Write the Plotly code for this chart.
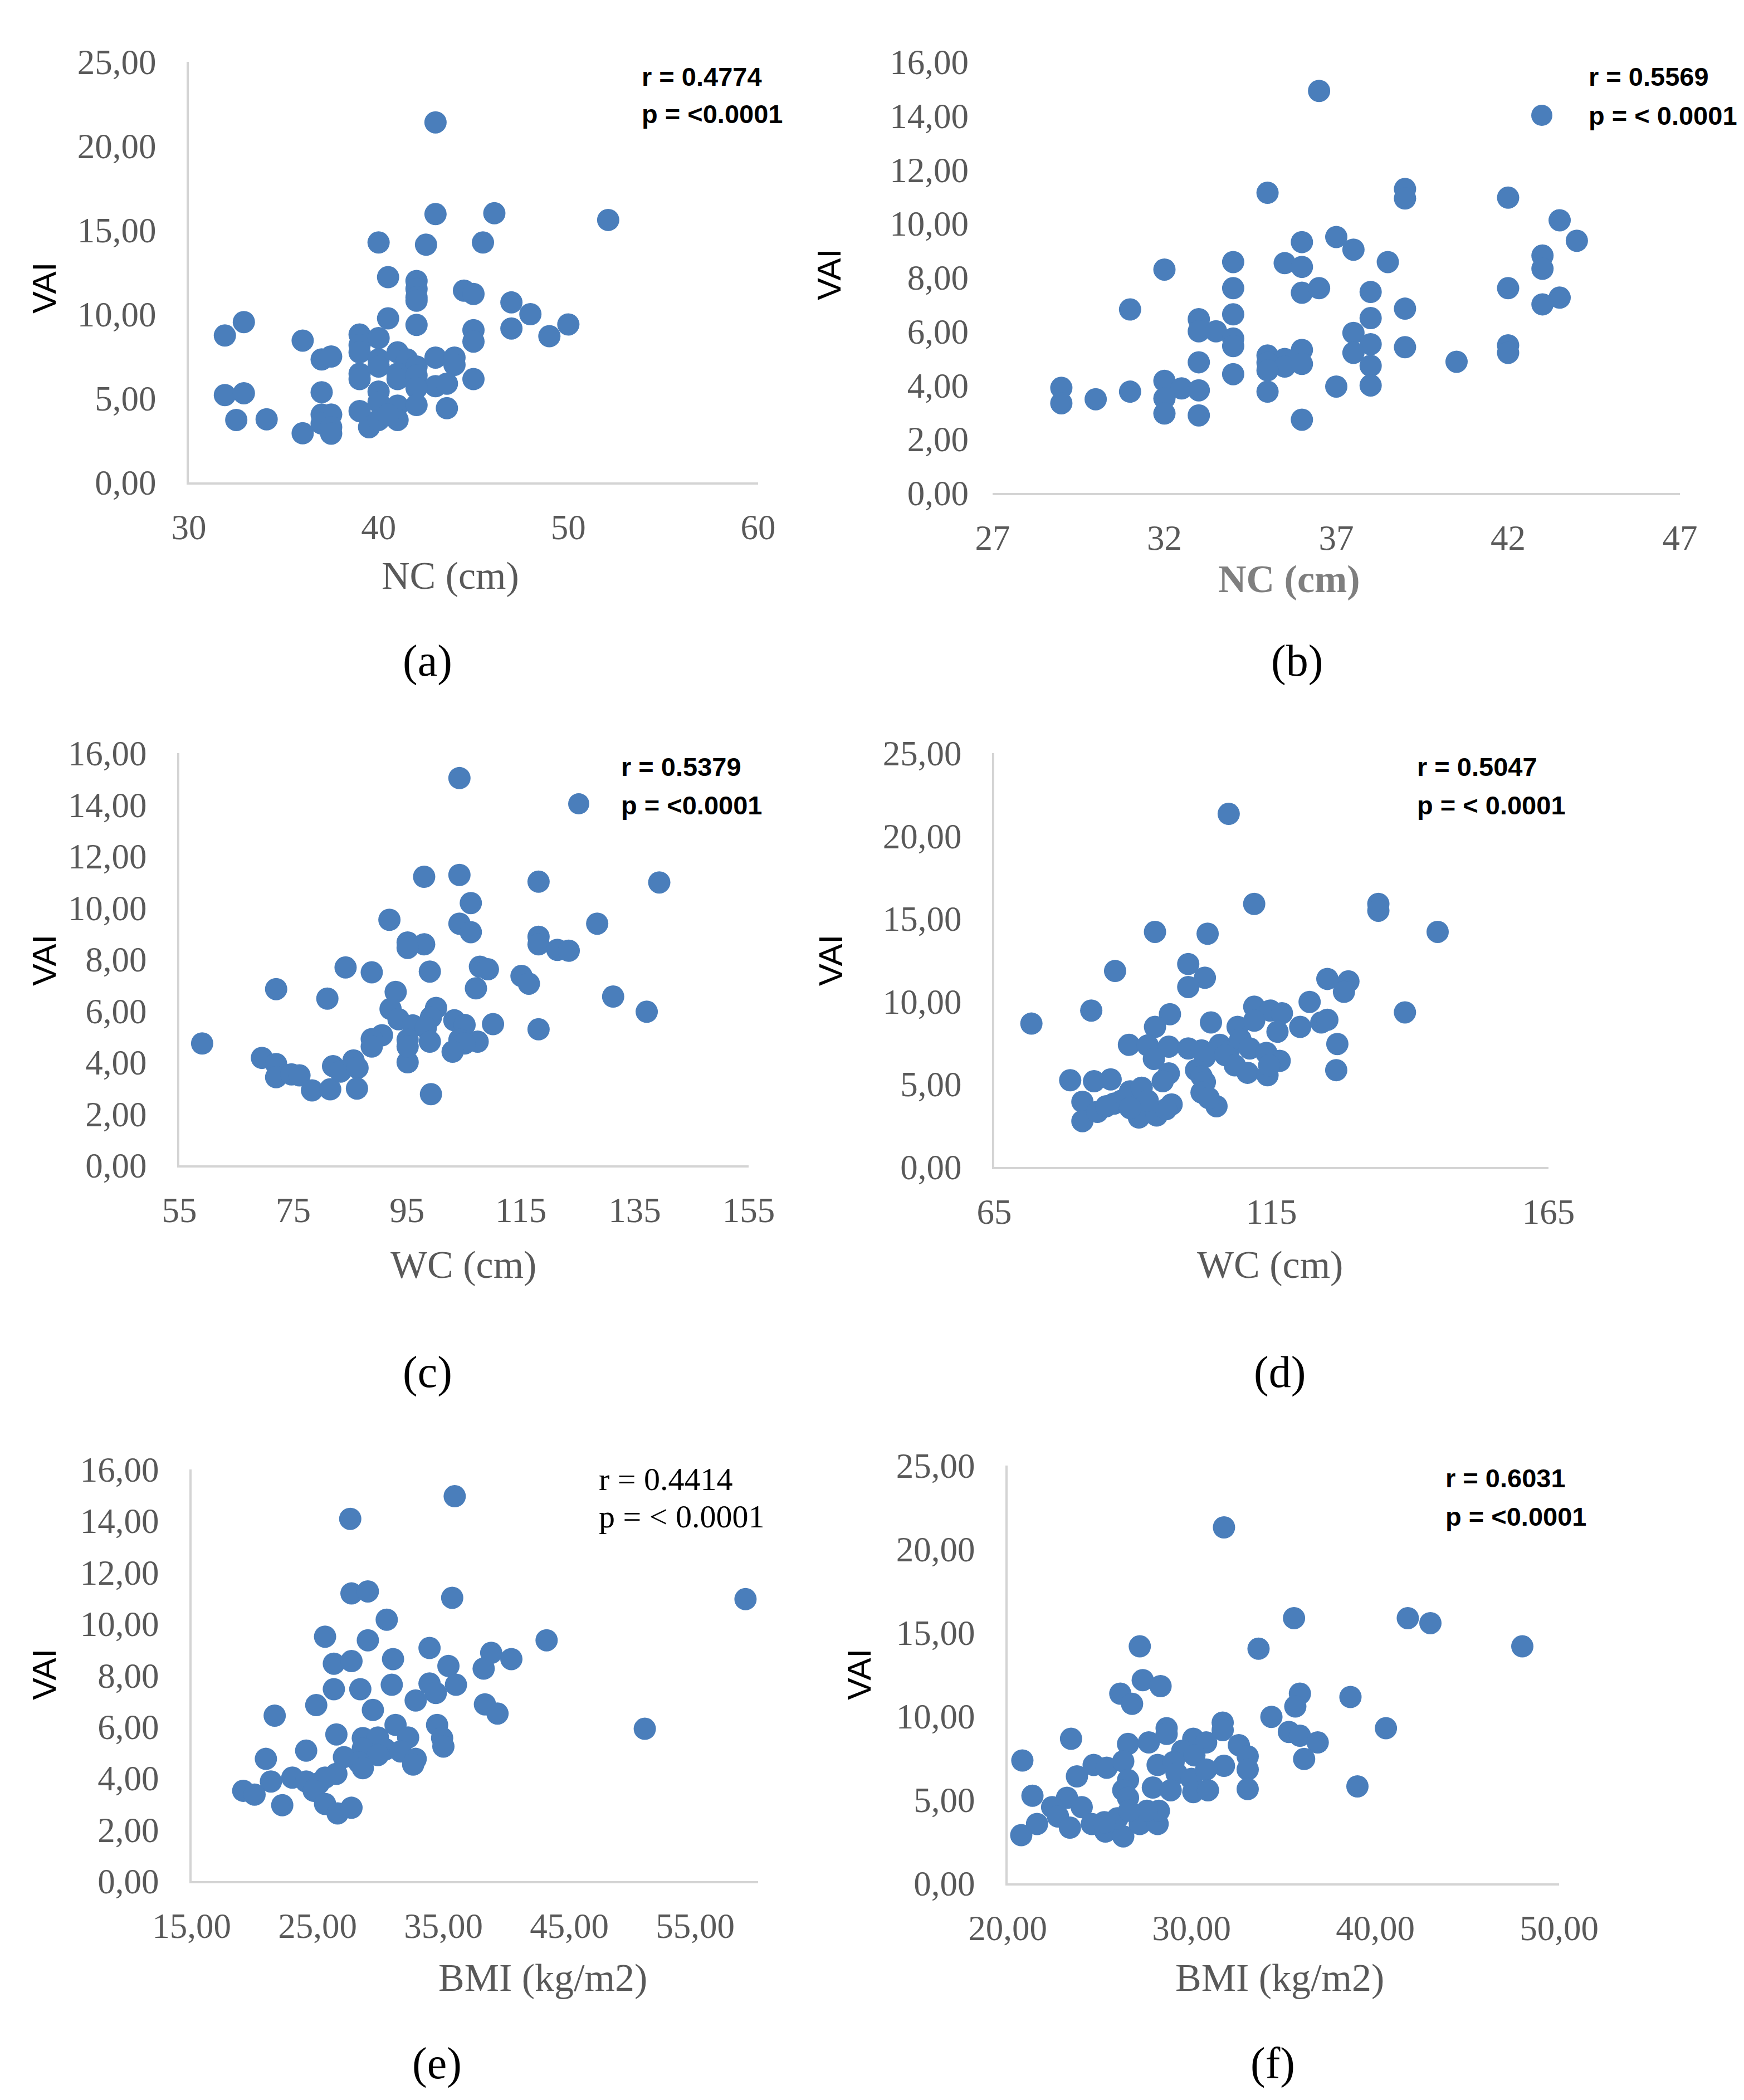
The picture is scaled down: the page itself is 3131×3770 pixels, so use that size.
import plotly.graph_objects as go

# ---------------- data ----------------
NC_A = [
    43.0, 43.0, 46.1, 52.1, 40.0, 42.5, 45.5, 40.5, 42.0, 42.0,
    42.0, 42.0, 44.5, 45.0, 47.0, 48.0, 40.5, 42.0, 47.0, 50.0,
    49.0, 45.0, 45.0, 32.9, 31.9, 36.0, 39.0, 39.0, 40.0, 37.0,
    37.5, 39.0, 40.0, 40.0, 41.0, 41.5, 42.0, 43.0, 44.0, 44.0,
    39.0, 39.0, 41.0, 41.0, 42.0, 45.0, 43.0, 43.6, 42.0, 31.9,
    32.9, 37.0, 40.0, 40.0, 41.0, 42.0, 43.6, 39.0, 32.5, 34.1,
    37.0, 37.5, 37.0, 37.5, 36.0, 37.5, 39.5, 40.0, 41.0, 40.5]
VAI_A = [
    21.40, 15.95, 16.00, 15.60, 14.26, 14.13, 14.26, 12.20, 11.97, 11.50,
    11.00, 10.80, 11.40, 11.20, 10.70, 10.00, 9.75, 9.36, 9.15, 9.39,
    8.69, 9.05, 8.37, 9.53, 8.73, 8.43, 8.79, 8.16, 8.58, 7.31,
    7.48, 7.73, 7.31, 6.89, 7.73, 7.31, 6.89, 7.42, 7.42, 6.99,
    6.46, 6.14, 6.46, 6.14, 6.36, 6.14, 5.72, 5.87, 5.61, 5.19,
    5.30, 5.36, 5.40, 4.77, 4.56, 4.60, 4.41, 4.24, 3.71, 3.75,
    4.03, 4.03, 3.50, 3.28, 2.92, 2.90, 3.28, 3.71, 3.71, 4.03]

NC_B = [
    36.5, 35.0, 39.0, 39.0, 42.0, 43.5, 44.0, 37.0, 36.0, 37.5,
    32.0, 34.0, 35.5, 36.0, 38.5, 43.0, 43.0, 34.0, 36.0, 36.5,
    38.0, 42.0, 43.5, 43.0, 31.0, 39.0, 33.0, 34.0, 38.0, 33.0,
    33.5, 37.5, 34.0, 34.0, 38.0, 39.0, 42.0, 42.0, 36.0, 37.5,
    35.0, 35.5, 35.0, 35.5, 36.0, 35.0, 33.0, 40.5, 38.0, 34.0,
    32.0, 32.5, 33.0, 31.0, 29.0, 29.0, 30.0, 32.0, 32.0, 33.0,
    35.0, 37.0, 38.0, 36.0]
VAI_B = [
    14.92, 11.14, 11.28, 10.93, 10.96, 10.12, 9.36, 9.50, 9.31, 9.03,
    8.29, 8.57, 8.53, 8.39, 8.57, 8.81, 8.32, 7.60, 7.43, 7.60,
    7.46, 7.60, 7.25, 7.00, 6.81, 6.84, 6.45, 6.63, 6.49, 6.00,
    6.00, 5.94, 5.73, 5.45, 5.52, 5.41, 5.48, 5.20, 5.31, 5.20,
    5.10, 4.97, 4.83, 4.69, 4.79, 4.55, 4.85, 4.87, 4.72, 4.41,
    4.16, 3.88, 3.81, 3.76, 3.90, 3.33, 3.48, 3.51, 2.95, 2.88,
    3.76, 3.95, 3.99, 2.72]

WC_C = [
    104.2, 98.0, 104.2, 118.1, 139.3, 106.2, 91.9, 104.2, 106.2, 128.4,
    95.1, 98.0, 95.1, 118.1, 118.1, 121.4, 123.4, 84.2, 88.8, 99.0,
    107.8, 109.2, 115.1, 116.4, 72.0, 107.1, 81.0, 93.0, 131.2, 137.1,
    92.1, 100.1, 93.5, 99.2, 103.3, 105.1, 110.1, 96.0, 98.3, 118.1,
    90.6, 88.8, 88.8, 95.1, 99.0, 104.2, 107.4, 105.1, 103.0, 59.0,
    69.5, 72.0, 72.0, 74.7, 76.1, 78.3, 81.5, 82.0, 83.3, 85.6,
    86.3, 86.2, 95.1, 99.2, 95.1]
VAI_C = [
    15.03, 11.20, 11.27, 11.01, 10.98, 10.18, 9.53, 9.38, 9.05, 9.38,
    8.65, 8.58, 8.44, 8.87, 8.58, 8.36, 8.33, 7.68, 7.49, 7.52,
    7.71, 7.61, 7.35, 7.05, 6.84, 6.87, 6.47, 6.73, 6.55, 5.96,
    6.07, 6.11, 5.67, 5.75, 5.63, 5.45, 5.48, 5.43, 5.34, 5.28,
    5.05, 4.90, 4.61, 4.87, 4.80, 4.87, 4.80, 4.73, 4.41, 4.73,
    4.17, 3.93, 3.42, 3.53, 3.49, 2.91, 2.95, 3.85, 3.64, 4.07,
    3.78, 2.98, 4.00, 2.76, 4.61]

WC_D = [
    107.3, 111.9, 134.3, 134.3, 94.0, 103.5, 145.0, 86.8, 100.0, 103.0,
    100.0, 125.1, 128.9, 128.1, 121.9, 139.1, 71.7, 82.5, 96.7, 111.9,
    114.8, 116.9, 94.0, 104.1, 108.9, 111.9, 120.2, 124.0, 125.1, 116.1,
    89.3, 92.7, 96.5, 100.0, 102.4, 105.7, 107.3, 109.4, 111.1, 126.9,
    93.8, 103.0, 106.7, 108.4, 114.1, 116.5, 110.7, 114.3, 114.6, 126.7,
    101.4, 96.5, 95.4, 102.4, 103.0, 78.7, 83.0, 86.0, 80.9, 80.9,
    83.6, 86.6, 89.5, 91.6, 91.1, 94.3, 97.0, 96.0, 102.4, 105.1,
    103.7, 87.9, 92.7, 89.5, 85.2]
VAI_D = [
    21.33, 15.89, 15.89, 15.48, 14.20, 14.09, 14.20, 11.84, 12.26, 11.43,
    10.87, 11.36, 11.21, 10.58, 9.97, 9.34, 8.66, 9.45, 9.23, 9.68,
    9.45, 9.29, 8.46, 8.73, 8.46, 8.84, 8.46, 8.73, 8.89, 8.17,
    7.38, 7.34, 7.27, 7.16, 7.04, 7.38, 6.98, 7.72, 7.16, 7.43,
    6.53, 6.64, 6.75, 6.14, 6.89, 6.41, 5.69, 5.54, 6.14, 5.85,
    5.85, 5.65, 5.18, 5.47, 5.13, 5.24, 5.18, 5.29, 3.94, 2.77,
    3.33, 3.83, 4.57, 4.79, 2.99, 3.11, 3.78, 3.49, 4.50, 3.67,
    4.16, 4.00, 4.00, 3.56, 3.67]

BMI_E = [
    35.9, 27.6, 27.7, 29.0, 35.7, 59.0, 30.5, 25.6, 29.0, 43.2,
    33.9, 26.3, 27.7, 31.0, 35.4, 38.8, 38.2, 40.4, 26.3, 28.4,
    30.9, 33.9, 36.0, 34.4, 32.8, 24.9, 29.4, 38.3, 39.3, 21.6,
    31.2, 34.5, 26.5, 28.6, 29.8, 32.2, 34.9, 35.0, 24.1, 28.6,
    30.4, 31.6, 29.8, 27.1, 28.3, 32.8, 32.6, 28.6, 20.9, 26.5,
    21.3, 23.0, 24.1, 25.1, 25.6, 19.1, 20.0, 24.7, 22.2, 25.6,
    26.6, 27.7, 51.0]
VAI_E = [
    14.96, 14.08, 11.18, 11.26, 11.01, 10.96, 10.16, 9.50, 9.36, 9.36,
    9.06, 8.45, 8.55, 8.63, 8.36, 8.87, 8.26, 8.63, 7.46, 7.46,
    7.63, 7.68, 7.63, 7.31, 7.02, 6.84, 6.65, 6.87, 6.51, 6.43,
    6.07, 6.07, 5.70, 5.56, 5.58, 5.58, 5.56, 5.23, 5.07, 5.15,
    5.12, 5.04, 4.90, 4.82, 4.61, 4.75, 4.53, 4.39, 4.75, 4.17,
    3.87, 4.02, 3.87, 3.80, 4.02, 3.51, 3.36, 3.51, 2.95, 3.00,
    2.63, 2.85, 5.92]

BMI_F = [
    31.77, 35.58, 41.77, 43.00, 27.19, 33.65, 48.00, 27.35, 28.32, 26.13,
    26.77, 35.90, 35.65, 38.65, 34.35, 31.70, 31.70, 28.65, 28.65, 40.58,
    35.30, 35.90, 36.87, 30.10, 30.80, 32.58, 26.55, 27.68, 23.45, 29.50,
    33.06, 30.16, 36.13, 20.80, 24.68, 25.39, 26.29, 28.16, 29.03, 31.77,
    33.06, 29.19, 30.00, 30.80, 23.77, 26.55, 27.90, 28.87, 30.10, 30.90,
    33.06, 39.03, 26.29, 26.55, 21.35, 23.23, 22.42, 24.03, 21.60, 22.74,
    23.39, 24.58, 25.32, 26.29, 20.74, 25.97, 27.19, 28.16, 28.23, 27.58,
    26.61, 25.26]
VAI_F = [
    21.30, 15.87, 15.87, 15.57, 14.18, 14.04, 14.18, 12.16, 11.80, 11.35,
    10.74, 11.35, 10.58, 11.15, 9.96, 9.62, 9.17, 9.28, 8.94, 9.28,
    9.06, 8.83, 8.43, 8.65, 8.43, 8.27, 8.34, 8.43, 8.65, 7.93,
    7.60, 7.66, 7.44, 7.35, 7.08, 6.92, 7.30, 7.08, 7.26, 7.03,
    6.81, 6.58, 6.25, 6.81, 6.40, 6.18, 5.73, 5.57, 5.46, 5.57,
    5.64, 5.80, 5.57, 5.12, 5.24, 5.12, 4.56, 4.56, 3.55, 4.00,
    3.33, 3.55, 3.10, 2.81, 2.88, 3.89, 3.55, 3.55, 4.34, 4.34,
    4.34, 3.66]

X_TITLES = ["NC (cm)", "NC (cm)", "WC (cm)", "WC (cm)", "BMI (kg/m2)", "BMI (kg/m2)"]
Y_TITLE = "VAI"
R_TEXT = ["r = 0.4774", "r = 0.5569", "r = 0.5379", "r = 0.5047", "r = 0.4414", "r = 0.6031"]
P_TEXT = ["p = <0.0001", "p = < 0.0001", "p = <0.0001", "p = < 0.0001", "p = < 0.0001", "p = <0.0001"]
PANEL_LABELS = ["(a)", "(b)", "(c)", "(d)", "(e)", "(f)"]

# ---------------- layout geometry (pixels in 3131x3770 page) ----------------
W, H = 3131, 3770
OFF = 8  # page body margin
def px(x):
    return (x - OFF) / W
def py(y):
    return 1 - (y - OFF) / H

BLUE = "#4A7EBB"
AXIS_GRAY = "#D4D4D4"
TICK_FONT = dict(family="Liberation Serif, Times New Roman, serif", size=63, color="#595959")

panels = [
    dict(x=NC_A, y=VAI_A, xd=(339, 1361), yd=(111, 866), xr=[30, 60], xt0=30, xdt=10, xfmt="d",
         yr=[0, 25], ydt=5, vline=True, xtitle=(808, 1034), ytitle=(79, 517), rp=(1150, 137, 204),
         lab=(767, 1186), bold_title=False, rp_serif=False),
    dict(x=NC_B, y=VAI_B, xd=(1782, 3016), yd=(111, 885), xr=[27, 47], xt0=27, xdt=5, xfmt="d",
         yr=[0, 16], ydt=2, vline=False, xtitle=(2314, 1039), ytitle=(1489, 493), rp=(2850, 137, 207),
         lab=(2328, 1186), bold_title=True, rp_serif=False),
    dict(x=WC_C, y=VAI_C, xd=(322, 1344), yd=(1352, 2092), xr=[55, 155], xt0=55, xdt=20, xfmt="d",
         yr=[0, 16], ydt=2, vline=True, xtitle=(832, 2270), ytitle=(79, 1724), rp=(1113, 1376, 1445),
         lab=(767, 2463), bold_title=False, rp_serif=False),
    dict(x=WC_D, y=VAI_D, xd=(1785, 2780), yd=(1352, 2095), xr=[65, 165], xt0=65, xdt=50, xfmt="d",
         yr=[0, 25], ydt=5, vline=True, xtitle=(2280, 2270), ytitle=(1491, 1724), rp=(2542, 1376, 1445),
         lab=(2297, 2463), bold_title=False, rp_serif=False),
    dict(x=BMI_E, y=VAI_E, xd=(344, 1361), yd=(2638, 3377), xr=[15, 60], xt0=15, xdt=10, xfmt=".2f",
         yr=[0, 16], ydt=2, vline=True, xtitle=(974, 3550), ytitle=(79, 3006), rp=(1073, 2655, 2722),
         lab=(784, 3704), bold_title=False, rp_serif=True),
    dict(x=BMI_F, y=VAI_F, xd=(1809, 2799), yd=(2631, 3381), xr=[20, 50], xt0=20, xdt=10, xfmt=".2f",
         yr=[0, 25], ydt=5, vline=True, xtitle=(2297, 3550), ytitle=(1542, 3006), rp=(2593, 2653, 2722),
         lab=(2285, 3704), bold_title=False, rp_serif=False),
]

fig = go.Figure()
layout = dict(
    width=W, height=H, margin=dict(l=0, r=0, t=0, b=0, autoexpand=False),
    paper_bgcolor="white", plot_bgcolor="white",
    separators=",.", showlegend=False, annotations=[], shapes=[],
)

for i, p in enumerate(panels):
    sfx = "" if i == 0 else str(i + 1)
    fig.add_trace(go.Scatter(
        x=p["x"], y=p["y"], mode="markers", xaxis="x" + sfx, yaxis="y" + sfx,
        marker=dict(size=40, color=BLUE, line=dict(width=0)),
        cliponaxis=False, hoverinfo="x+y",
    ))
    layout["xaxis" + sfx] = dict(
        domain=[px(p["xd"][0]), px(p["xd"][1])], anchor="y" + sfx,
        range=p["xr"], tick0=p["xt0"], dtick=p["xdt"], tickmode="linear",
        tickformat=p["xfmt"], showgrid=False, zeroline=False, automargin=False,
        showline=True, linecolor=AXIS_GRAY, linewidth=4,
        ticks="", tickfont=TICK_FONT, ticklabelstandoff=22,
    )
    layout["yaxis" + sfx] = dict(
        domain=[py(p["yd"][1]), py(p["yd"][0])], anchor="x" + sfx,
        range=p["yr"], tick0=0, dtick=p["ydt"], tickmode="linear",
        tickformat=".2f", showgrid=False, zeroline=False, automargin=False,
        showline=p["vline"], linecolor=AXIS_GRAY, linewidth=4,
        ticks="", tickfont=TICK_FONT, ticklabelstandoff=42,
    )
    # axis titles
    if p["bold_title"]:
        tf = dict(family="Liberation Serif, serif", size=70, color="#7F7F7F")
        ttxt = "<b>" + X_TITLES[i] + "</b>"
    else:
        tf = dict(family="Liberation Serif, serif", size=70, color="#595959")
        ttxt = X_TITLES[i]
    layout["annotations"].append(dict(
        text=ttxt, x=px(p["xtitle"][0]), y=py(p["xtitle"][1]), xref="paper", yref="paper",
        xanchor="center", yanchor="middle", showarrow=False, font=tf))
    layout["annotations"].append(dict(
        text=Y_TITLE, x=px(p["ytitle"][0]), y=py(p["ytitle"][1]), xref="paper", yref="paper",
        xanchor="center", yanchor="middle", textangle=-90, showarrow=False,
        font=dict(family="Liberation Sans, Arial, sans-serif", size=60, color="black")))
    # r / p text
    if p["rp_serif"]:
        rf = dict(family="Liberation Serif, serif", size=58, color="black")
        rt, pt = R_TEXT[i], P_TEXT[i]
    else:
        rf = dict(family="Liberation Sans Narrow, Arial Narrow, Liberation Sans, sans-serif", size=47, color="black")
        rt, pt = "<b>" + R_TEXT[i] + "</b>", "<b>" + P_TEXT[i] + "</b>"
    for txt, yy in ((rt, p["rp"][1]), (pt, p["rp"][2])):
        layout["annotations"].append(dict(
            text=txt, x=px(p["rp"][0]), y=py(yy), xref="paper", yref="paper",
            xanchor="left", yanchor="middle", showarrow=False, font=rf))
    # panel label
    layout["annotations"].append(dict(
        text=PANEL_LABELS[i], x=px(p["lab"][0]), y=py(p["lab"][1]), xref="paper", yref="paper",
        xanchor="center", yanchor="middle", showarrow=False,
        font=dict(family="Liberation Serif, Times New Roman, serif", size=80, color="black")))

# legend keys (series symbol shown next to the p text in panels b and c)
for cx, cy in ((2768, 207), (1039, 1443)):
    layout["shapes"].append(dict(
        type="circle", xref="paper", yref="paper", xsizemode="pixel", ysizemode="pixel",
        xanchor=px(cx), yanchor=py(cy), x0=-19, x1=19, y0=-19, y1=19,
        fillcolor=BLUE, line=dict(width=0)))

fig.update_layout(**layout)
fig.write_html("out.html")
